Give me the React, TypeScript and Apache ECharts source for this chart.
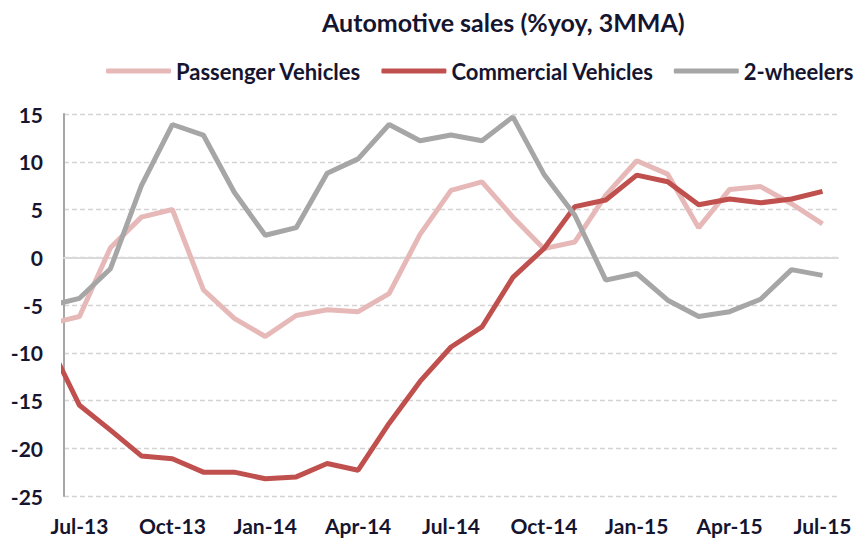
import React, { useEffect, useRef } from "react";
import * as echarts from "echarts";

const months = [
  "Jun-13", "Jul-13", "Aug-13", "Sep-13", "Oct-13", "Nov-13", "Dec-13",
  "Jan-14", "Feb-14", "Mar-14", "Apr-14", "May-14", "Jun-14", "Jul-14",
  "Aug-14", "Sep-14", "Oct-14", "Nov-14", "Dec-14", "Jan-15", "Feb-15",
  "Mar-15", "Apr-15", "May-15", "Jun-15", "Jul-15",
];
const tickLabels = ["Jul-13", "Oct-13", "Jan-14", "Apr-14", "Jul-14", "Oct-14", "Jan-15", "Apr-15", "Jul-15"];

const passenger = [
  -7.0, -6.2, 1.0, 4.2, 5.0, -3.4, -6.4, -8.3, -6.1, -5.5, -5.7, -3.8, 2.4,
  7.0, 7.9, 4.2, 0.9, 1.6, 6.5, 10.1, 8.7, 3.1, 7.1, 7.4, 5.6, 3.5,
];
const commercial = [
  -8.9, -15.5, -18.1, -20.8, -21.1, -22.5, -22.5, -23.2, -23.0, -21.6, -22.3,
  -17.4, -13.0, -9.4, -7.3, -2.1, 0.9, 5.3, 6.0, 8.6, 7.9, 5.5, 6.1, 5.7, 6.1, 6.9,
];
const twoWheelers = [
  -5.1, -4.3, -1.2, 7.5, 13.9, 12.8, 6.8, 2.3, 3.1, 8.8, 10.3, 13.9, 12.2,
  12.8, 12.2, 14.7, 8.7, 4.4, -2.4, -1.7, -4.5, -6.2, -5.7, -4.4, -1.3, -1.9,
];

const FONT = "Lato, 'Noto Sans', sans-serif";
const TXT = "#151530";

const toPairs = (vals: number[]) => vals.map((v, i) => [i - 1, v]);
const labelValues = tickLabels.map((l) => months.indexOf(l) - 1);

export default function App() {
  const ref = useRef<HTMLDivElement>(null);
  useEffect(() => {
    if (!ref.current) return;
    const chart = echarts.init(ref.current, null, { renderer: "svg" });
    chart.setOption({
      animation: false,
      backgroundColor: "#ffffff",
      graphic: [
        {
          type: "text",
          left: 322,
          top: 9,
          style: {
            text: "Automotive sales (%yoy, 3MMA)",
            font: `bold 25px ${FONT}`,
            fill: TXT,
          },
        },
      ],
      legend: {
        left: 101,
        top: 55,
        icon: "roundRect",
        itemWidth: 65,
        itemHeight: 5,
        itemGap: 20,
        textStyle: { fontFamily: FONT, fontWeight: "bold", fontSize: 22, color: TXT },
        data: ["Passenger Vehicles", "Commercial Vehicles", "2-wheelers"],
      },
      grid: { left: 64, right: 26, top: 114, bottom: 53 },
      xAxis: [
        {
          type: "value",
          min: -0.5,
          max: 24.5,
          axisLine: { show: false, onZero: false },
          axisTick: { show: false },
          splitLine: { show: false },
          axisLabel: {
            customValues: labelValues,
            formatter: (v: number) => months[Math.round(v) + 1],
            fontFamily: FONT,
            fontWeight: "bold",
            fontSize: 21,
            color: TXT,
            margin: 19,
          },
        },
        {
          type: "value",
          min: -0.5,
          max: 24.5,
          position: "top",
          axisLine: { show: true, onZero: true, lineStyle: { color: "#d9d9d9", width: 2 } },
          axisTick: { show: false },
          axisLabel: { show: false },
          splitLine: { show: false },
        },
      ],
      yAxis: {
        type: "value",
        min: -25,
        max: 15,
        interval: 5,
        axisLine: { show: true, onZero: false, lineStyle: { color: "#a6a6a6", width: 2 } },
        axisTick: { show: false },
        splitLine: { show: true, lineStyle: { color: "#d4d4d4", width: 1.3, type: [5, 3] } },
        axisLabel: {
          fontFamily: FONT,
          fontWeight: "bold",
          fontSize: 21,
          color: TXT,
          margin: 21,
        },
      },
      series: [
        {
          name: "Passenger Vehicles",
          type: "line",
          data: toPairs(passenger),
          showSymbol: false,
          symbol: "none",
          clip: true,
          lineStyle: { color: "#e6b9b8", width: 5 },
          itemStyle: { color: "#e6b9b8" },
        },
        {
          name: "Commercial Vehicles",
          type: "line",
          data: toPairs(commercial),
          showSymbol: false,
          symbol: "none",
          clip: true,
          lineStyle: { color: "#c0504d", width: 5 },
          itemStyle: { color: "#c0504d" },
        },
        {
          name: "2-wheelers",
          type: "line",
          data: toPairs(twoWheelers),
          showSymbol: false,
          symbol: "none",
          clip: true,
          lineStyle: { color: "#a6a6a6", width: 5 },
          itemStyle: { color: "#a6a6a6" },
        },
      ],
    });
    return () => chart.dispose();
  }, []);
  return (
    <div
      ref={ref}
      style={{ position: "fixed", left: 0, top: 0, width: 864, height: 549 }}
    />
  );
}
